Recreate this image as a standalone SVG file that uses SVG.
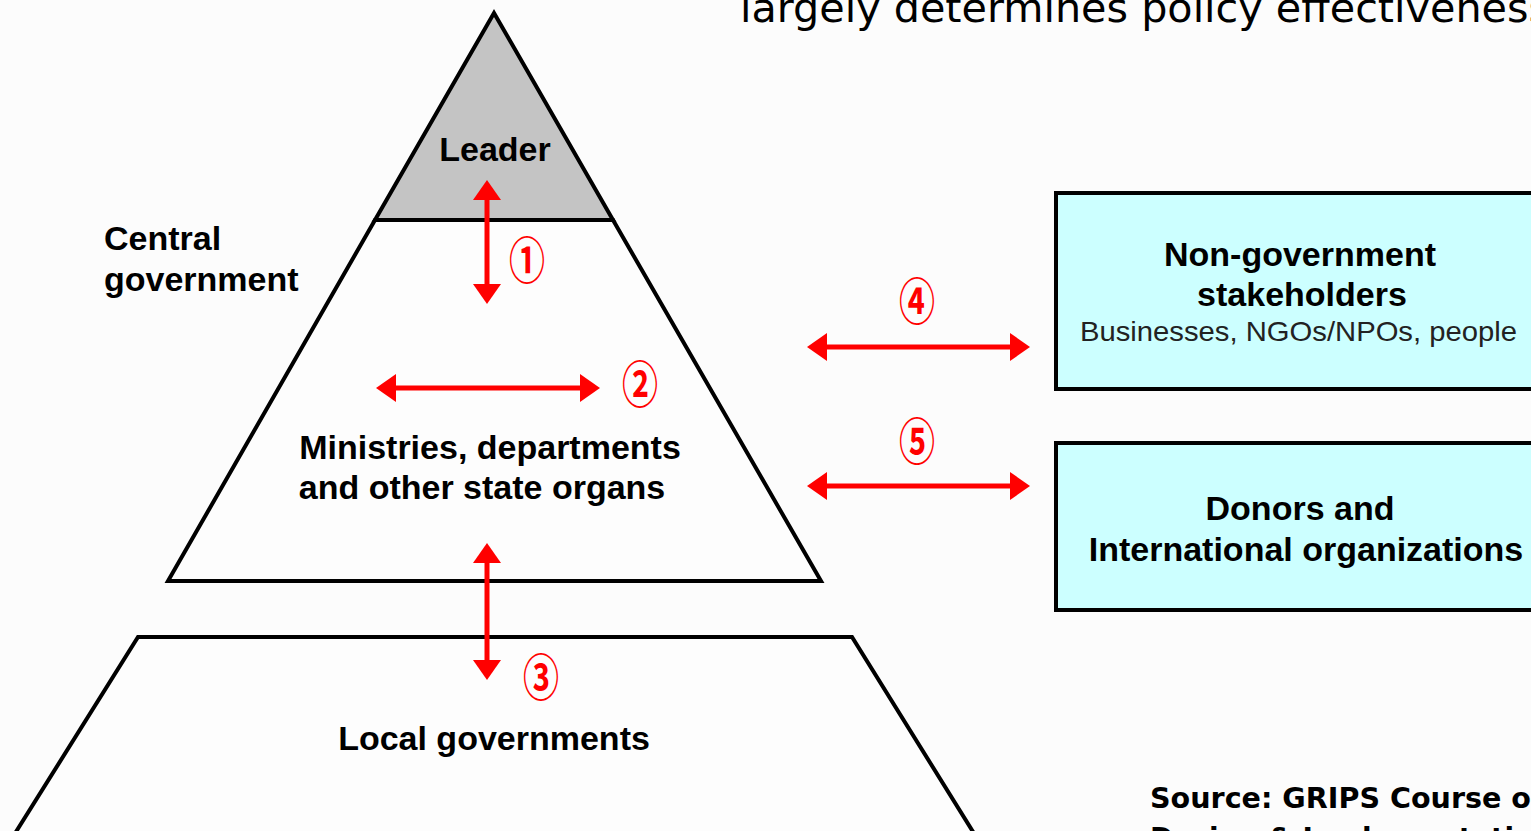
<svg xmlns="http://www.w3.org/2000/svg" width="1531" height="831" viewBox="0 0 1531 831">
<style>
.shape{stroke:#000;stroke-width:4;stroke-linejoin:miter}
.lbl{font-family:"Liberation Sans",Arial,sans-serif;font-weight:bold;font-size:34px;fill:#000}
.sub{font-family:"Liberation Sans",Arial,sans-serif;font-size:28px;fill:#222}
.num{font-family:"Noto Sans CJK JP","DejaVu Sans",sans-serif;font-size:50px;font-weight:bold;fill:#f00}
.conn{stroke:#f00;stroke-width:5;fill:none}
</style>
<defs>
<marker id="ah" viewBox="0 0 20 28" refX="0" refY="14" markerWidth="20" markerHeight="28" markerUnits="userSpaceOnUse" orient="auto-start-reverse">
<path d="M0,0 L20,14 L0,28 z" fill="#f00"/>
</marker>
</defs>
<rect width="1531" height="831" fill="#fcfcfc"/>
<text x="740" y="22" font-family="DejaVu Sans,sans-serif" font-size="40" fill="#000" textLength="810" lengthAdjust="spacingAndGlyphs">largely determines policy effectiveness</text>

<g id="central">
<polygon class="shape" points="375,220 613,220 821,581 168,581" fill="#fdfdfd"/>
<text class="lbl" x="104" y="250">Central</text>
<text class="lbl" x="104" y="291">government</text>
<text class="lbl" x="490" y="459" text-anchor="middle">Ministries, departments</text>
<text class="lbl" x="482" y="499" text-anchor="middle">and other state organs</text>
</g>
<g id="leader">
<polygon class="shape" points="494,13 613,220 375,220" fill="#c4c4c4"/>
<text class="lbl" x="495" y="161" text-anchor="middle">Leader</text>
</g>
<g id="local">
<polygon class="shape" points="138,637 852,637 975,835 14,835" fill="#fdfdfd"/>
<text class="lbl" x="494" y="750" text-anchor="middle">Local governments</text>
</g>
<g id="nongov">
<rect class="shape" x="1056" y="193" width="490" height="196" fill="#ccffff"/>
<text class="lbl" x="1300" y="266" text-anchor="middle">Non-government</text>
<text class="lbl" x="1302" y="306" text-anchor="middle">stakeholders</text>
<text class="sub" x="1080" y="341" textLength="437" lengthAdjust="spacingAndGlyphs">Businesses, NGOs/NPOs, people</text>
</g>
<g id="donors">
<rect class="shape" x="1056" y="443" width="490" height="167" fill="#ccffff"/>
<text class="lbl" x="1300" y="520" text-anchor="middle">Donors and</text>
<text class="lbl" x="1306" y="561" text-anchor="middle">International organizations</text>
</g>

<g id="connectors">
<line class="conn" x1="487" y1="200" x2="487" y2="284" marker-start="url(#ah)" marker-end="url(#ah)"/>
<line class="conn" x1="396" y1="388" x2="580" y2="388" marker-start="url(#ah)" marker-end="url(#ah)"/>
<line class="conn" x1="487" y1="563" x2="487" y2="660" marker-start="url(#ah)" marker-end="url(#ah)"/>
<line class="conn" x1="827" y1="347" x2="1010" y2="347" marker-start="url(#ah)" marker-end="url(#ah)"/>
<line class="conn" x1="827" y1="486" x2="1010" y2="486" marker-start="url(#ah)" marker-end="url(#ah)"/>
</g>
<g id="numbers">
<text class="num" text-anchor="middle" transform="translate(527,279) scale(0.72,1)">①</text>
<text class="num" text-anchor="middle" transform="translate(640,403) scale(0.72,1)">②</text>
<text class="num" text-anchor="middle" transform="translate(541,696) scale(0.72,1)">③</text>
<text class="num" text-anchor="middle" transform="translate(917,320) scale(0.72,1)">④</text>
<text class="num" text-anchor="middle" transform="translate(917,460) scale(0.72,1)">⑤</text>
</g>
<g id="source">
<text x="1150" y="808" font-family="DejaVu Sans,sans-serif" font-weight="bold" font-size="28" fill="#000" textLength="381" lengthAdjust="spacingAndGlyphs">Source: GRIPS Course o</text>
<text x="1150" y="848" font-family="DejaVu Sans,sans-serif" font-weight="bold" font-size="28" fill="#000">Design &amp; Implementati</text>
</g>
</svg>
